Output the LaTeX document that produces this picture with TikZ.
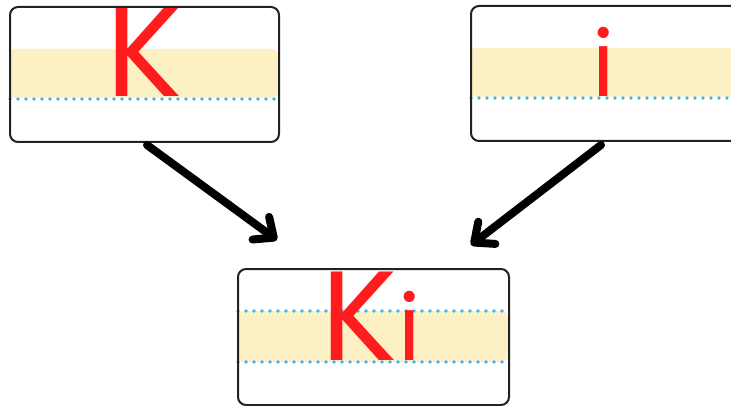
\documentclass[tikz,border=0pt]{standalone}
\usepackage{fontspec}
\newfontfamily\letterfont{Poppins}
\usetikzlibrary{arrows.meta}
\definecolor{boxline}{HTML}{222222}
\definecolor{band}{HTML}{FDF0C5}
\definecolor{dotblue}{HTML}{38B4F4}
\definecolor{letterred}{HTML}{FF1C1C}
\newcommand{\smallisize}{\fontsize{91}{91}\selectfont}
\tikzset{
  card/.style={draw=boxline, line width=2pt, rounded corners=8pt, inner sep=0pt, anchor=north west},
  bandfill/.style={fill=band, rounded corners=6pt},
  guide/.style={draw=dotblue, line width=3.6pt, line cap=round, dash pattern=on 0pt off 8pt},
  capK/.style={text=letterred, inner sep=0pt, anchor=base, font=\letterfont\fontsize{127}{127}\selectfont},
  smalli/.style={text=letterred, inner sep=0pt, anchor=base, font=\letterfont\smallisize},
  flow/.style={line width=8pt, line cap=round, -{Straight Barb[length=16pt, width=28pt, round]}}
}
\begin{document}
\begin{tikzpicture}[x=1pt,y=-1pt]
\useasboundingbox (0,0) rectangle (731,406);
% box 1
\fill[bandfill] (9,49) rectangle (278,98);
\draw[guide] (10,99) -- (276,99);
\node[capK] (k1) at (145,97) {K};
\node[card, minimum width=269pt, minimum height=135pt] (b1) at (9,6) {};
% box 2
\fill[bandfill] (470,48) rectangle (760,97);
\draw[guide] (471,98) -- (731,98);
\node[smalli] (i2) at (604,97) {i};
\node[card, minimum width=300pt, minimum height=135pt] (b2) at (470,5) {};
% box 3
\fill[bandfill] (237,311) rectangle (508,362);
\draw[guide] (238,311) -- (506,311);
\draw[guide] (238,362) -- (506,362);
\node[capK] (ki3) at (371,360) {K\kern1pt{\smallisize i}};
\node[card, minimum width=271pt, minimum height=136pt] (b3) at (237,268) {};
% arrows
\coordinate (s1) at (147,145);
\coordinate (e1) at (277,240);
\coordinate (s2) at (601,145);
\coordinate (e2) at (471,245);
\draw[flow] (s1) -- (e1);
\draw[flow] (s2) -- (e2);
\end{tikzpicture}
\end{document}
